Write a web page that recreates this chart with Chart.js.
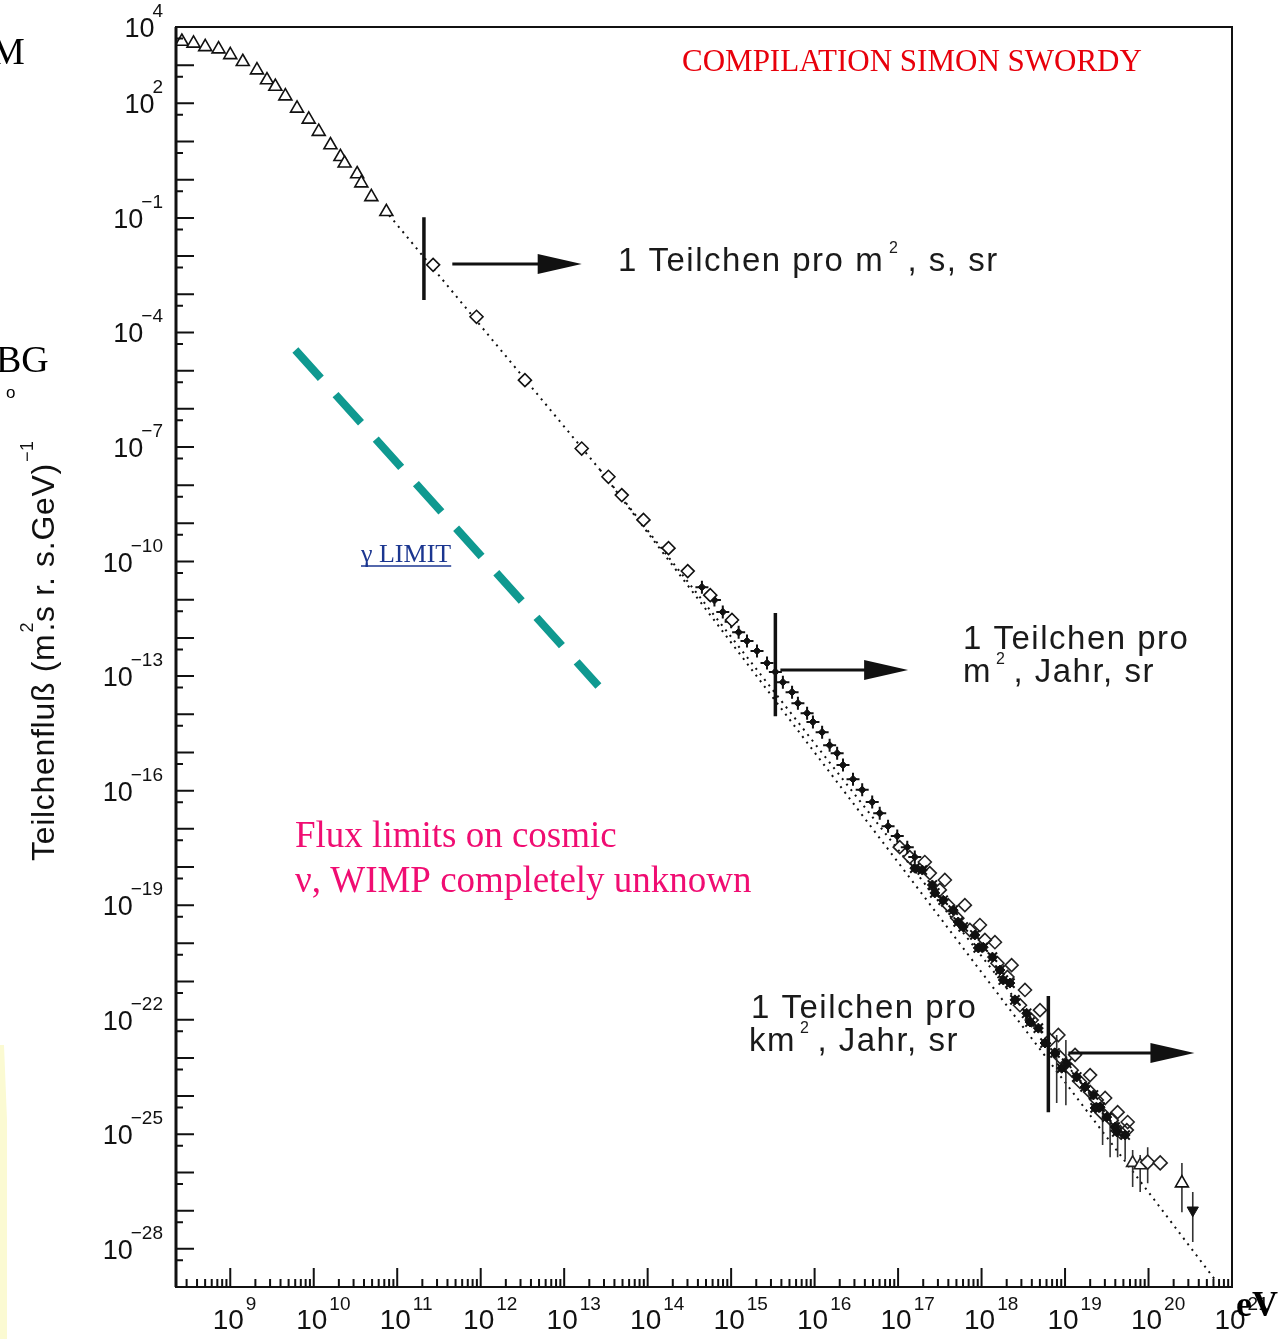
<!DOCTYPE html>
<html>
<head>
<meta charset="utf-8">
<title>Teilchenfluss</title>
<script src="https://cdn.jsdelivr.net/npm/chart.js@4.4.0/dist/chart.umd.min.js"></script>
<style>
  html, body { margin: 0; padding: 0; background: #fff; }
  canvas { display: block; }
</style>
</head>
<body>
<canvas id="fluxChart" width="1284" height="1339"></canvas>
<script>
// all values are log10(E / eV) and log10(flux)

// low energy triangles
const triLogE = [8.42, 8.56, 8.70, 8.86, 9.00, 9.15, 9.32, 9.44, 9.54, 9.66, 9.80, 9.94, 10.06, 10.20, 10.32, 10.37, 10.52, 10.57, 10.69, 10.87];
const triLogF = [3.62, 3.57, 3.48, 3.42, 3.27, 3.09, 2.87, 2.61, 2.44, 2.19, 1.87, 1.58, 1.26, 0.91, 0.60, 0.43, 0.15, -0.09, -0.45, -0.84];

// open diamonds
const diaLogE = [11.43, 11.95, 12.53, 13.21, 13.53, 13.69, 13.95, 14.25, 14.48, 14.75, 15.01];
const diaLogF = [-2.23, -3.59, -5.25, -7.04, -7.78, -8.26, -8.91, -9.65, -10.25, -10.88, -11.53];

// filled crosses around the knee
const crossLogE = [14.65, 14.80, 14.90, 15.00, 15.09, 15.19, 15.31, 15.43, 15.53, 15.62, 15.73, 15.80, 15.91, 15.98, 16.09, 16.18, 16.27, 16.34, 16.46, 16.57, 16.69, 16.78, 16.88, 16.99, 17.11, 17.20];
const crossLogF = [-10.67, -11.01, -11.32, -11.58, -11.85, -12.08, -12.34, -12.66, -12.89, -13.16, -13.42, -13.71, -13.97, -14.20, -14.47, -14.81, -15.02, -15.33, -15.70, -15.98, -16.30, -16.59, -16.93, -17.19, -17.48, -17.74];

// dense high energy cloud
const cloudFilledLogE = [17.29, 17.41, 17.54, 17.66, 17.78, 17.92, 18.02, 18.13, 18.22, 18.34, 18.40, 18.54, 18.68, 18.76, 18.88, 19.02, 19.14, 19.24, 19.34, 19.42, 19.50, 19.60, 19.72,
  17.20, 17.44, 17.72, 17.96, 18.26, 18.58, 18.96, 19.36, 19.62];
const cloudFilledLogF = [-18.08, -18.47, -18.87, -19.13, -19.57, -19.78, -20.10, -20.36, -20.70, -21.04, -21.48, -21.83, -22.22, -22.61, -22.87, -23.14, -23.50, -23.76, -23.97, -24.29, -24.55, -24.81, -25.02,
  -18.03, -18.68, -19.44, -20.12, -20.96, -22.06, -23.27, -24.31, -24.94];
const cloudOpenLogE = [17.02, 17.14, 17.38, 17.50, 17.60, 17.71, 17.86, 18.04, 18.19, 18.31, 18.46, 18.60, 18.82, 18.94, 19.08, 19.18, 19.30, 19.38, 19.44, 19.56, 19.66, 19.74,
  17.32, 17.56, 17.80, 17.98, 18.16, 18.36, 18.52, 18.70, 18.92, 19.12, 19.30, 19.48, 19.63, 19.75];
const cloudOpenLogF = [-17.48, -17.74, -18.16, -18.60, -19.00, -19.34, -19.65, -19.91, -20.52, -20.88, -21.62, -22.01, -22.53, -22.98, -23.32, -23.63, -23.89, -24.10, -24.44, -24.63, -24.94, -24.89,
  -17.87, -18.34, -19.00, -19.52, -19.97, -20.57, -21.22, -21.75, -22.40, -22.92, -23.45, -24.05, -24.42, -24.68];

// last points
const tailLogE = [19.81, 19.90, 19.99, 20.14];
const tailLogF = [-25.75, -25.81, -25.73, -25.75];
const upLogE = [20.40];
const upLogF = [-26.28];
const downLogE = [20.53];
const downLogF = [-26.99];

// error bars
const errLogE = [18.90, 19.01, 19.45, 19.54, 19.63, 19.72, 19.81, 19.90, 19.99, 20.40, 20.53];
const errLogLo = [-24.18, -24.24, -25.28, -25.60, -25.60, -25.67, -26.38, -26.51, -26.28, -27.04, -27.82];
const errLogHi = [-22.40, -22.53, -24.23, -24.50, -24.63, -24.89, -25.41, -25.54, -25.34, -25.75, -26.51];

// dotted power law lines
const fitLogE1 = [10.85, 13.43, 20.80];
const fitLogF1 = [-0.79, -7.60, -28.82];
const fitLogE2 = [13.43, 19.42];
const fitLogF2 = [-7.60, -24.29];

// gamma limit (teal dashes)
const gammaLogE = [9.78, 13.41];
const gammaLogF = [-4.46, -13.26];

// "1 Teilchen pro ..." markers and arrows
const markLogE = [11.32, 15.53, 18.80];
const markLogLo = [-3.15, -14.05, -24.42];
const markLogHi = [-0.98, -11.35, -21.38];
const arrowLogE0 = [11.66, 15.59, 19.04];
const arrowLogE1 = [13.21, 17.12, 20.55];
const arrowLogF = [-2.21, -12.84, -22.87];

// tick labels (exponents)
const xTickExp = [9, 10, 11, 12, 13, 14, 15, 16, 17, 18, 19, 20, 21];
const yTickExp = [4, 2, -1, -4, -7, -10, -13, -16, -19, -22, -25, -28];

function pts(lx, ly) {
  return lx.map((v, i) => ({ x: Math.pow(10, v), y: Math.pow(10, ly[i]) }));
}

function segs(lx, lo, hi) {
  const out = [];
  lx.forEach((v, i) => {
    const x = Math.pow(10, v);
    out.push({ x, y: Math.pow(10, lo[i]) });
    out.push({ x, y: Math.pow(10, hi[i]) });
    out.push({ x, y: null });
  });
  return out;
}

function expText(n) {
  return n < 0 ? "\u2212" + String(-n) : String(n);
}

const SANS = '"Liberation Sans", Arial, Helvetica, sans-serif';
const SERIF = '"Liberation Serif", "Times New Roman", serif';

// axes, frame, labels and notes
const decorPlugin = {
  id: "decor",
  beforeDraw(chart) {
    const ctx = chart.ctx;
    ctx.save();
    ctx.fillStyle = "#fff";
    ctx.fillRect(0, 0, chart.width, chart.height);
    // pale yellow strip at the left edge of the slide
    ctx.fillStyle = "#fbfad2";
    ctx.beginPath();
    ctx.moveTo(0, 1045);
    ctx.lineTo(4, 1045);
    ctx.lineTo(7, 1120);
    ctx.lineTo(7, 1339);
    ctx.lineTo(0, 1339);
    ctx.closePath();
    ctx.fill();
    ctx.restore();
  },
  afterDraw(chart) {
    const { ctx, chartArea: a } = chart;
    const xs = chart.scales.x;
    const ys = chart.scales.y;
    ctx.save();
    ctx.strokeStyle = "#111";
    ctx.fillStyle = "#111";

    // frame
    ctx.lineWidth = 2;
    ctx.strokeRect(a.left, a.top, a.right - a.left, a.bottom - a.top);
    ctx.lineWidth = 3;
    ctx.beginPath();
    ctx.moveTo(a.left, a.top);
    ctx.lineTo(a.left, a.bottom);
    ctx.stroke();

    // inward ticks
    ctx.lineWidth = 2;
    ctx.beginPath();
    for (let n = 8; n <= 21; n++) {
      for (let k = 1; k <= 9; k++) {
        const v = k * Math.pow(10, n);
        if (v < xs.min || v > xs.max) continue;
        const px = xs.getPixelForValue(v);
        const len = k === 1 ? 19 : 8;
        ctx.moveTo(px, a.bottom);
        ctx.lineTo(px, a.bottom - len);
      }
    }
    for (let n = -29; n <= 4; n++) {
      [[1, 18], [5, 7]].forEach(([k, len]) => {
        const v = k * Math.pow(10, n);
        if (v < ys.min || v > ys.max) return;
        const py = ys.getPixelForValue(v);
        ctx.moveTo(a.left, py);
        ctx.lineTo(a.left + len, py);
      });
    }
    ctx.stroke();

    // y tick labels
    ctx.textAlign = "left";
    ctx.textBaseline = "alphabetic";
    yTickExp.forEach((n) => {
      const py = ys.getPixelForValue(Math.pow(10, n));
      const e = expText(n);
      ctx.font = "19px " + SANS;
      const ew = ctx.measureText(e).width;
      ctx.font = "27px " + SANS;
      const bw = ctx.measureText("10").width;
      const ex = 163 - ew;
      ctx.fillText("10", ex + 2 - bw, py + 10);
      ctx.font = "19px " + SANS;
      ctx.fillText(e, ex, py - 10);
    });

    // x tick labels
    xTickExp.forEach((n) => {
      const px = xs.getPixelForValue(Math.pow(10, n));
      ctx.font = "28px " + SANS;
      const bw = ctx.measureText("10").width;
      const bx = px - 2 - bw / 2;
      ctx.fillText("10", bx, 1329);
      ctx.font = "19px " + SANS;
      ctx.fillText(expText(n), bx + bw + 2, 1310);
    });

    // arrows
    ctx.lineWidth = 3;
    arrowLogF.forEach((f, i) => {
      const x0 = xs.getPixelForValue(Math.pow(10, arrowLogE0[i]));
      const x1 = xs.getPixelForValue(Math.pow(10, arrowLogE1[i]));
      const py = ys.getPixelForValue(Math.pow(10, f));
      ctx.beginPath();
      ctx.moveTo(x0, py);
      ctx.lineTo(x1 - 40, py);
      ctx.stroke();
      ctx.beginPath();
      ctx.moveTo(x1 - 44, py - 10);
      ctx.lineTo(x1, py);
      ctx.lineTo(x1 - 44, py + 10);
      ctx.closePath();
      ctx.fill();
    });

    // y axis title
    ctx.save();
    ctx.translate(54, 861);
    ctx.rotate(-Math.PI / 2);
    ctx.letterSpacing = "0.7px";
    ctx.font = "32px " + SANS;
    let tx = 0;
    ctx.fillText("Teilchenflu\u00df (m", tx, 0);
    tx += ctx.measureText("Teilchenflu\u00df (m").width;
    ctx.font = "18px " + SANS;
    ctx.fillText("2", tx + 1, -21);
    ctx.font = "32px " + SANS;
    ctx.fillText(".s r. s.GeV)", tx + 2, 0);
    tx += 2 + ctx.measureText(".s r. s.GeV)").width;
    ctx.font = "18px " + SANS;
    ctx.fillText("\u22121", tx + 1, -21);
    ctx.letterSpacing = "0px";
    ctx.restore();

    // "1 Teilchen pro" notes
    function note(x, y, parts) {
      let cx = x;
      parts.forEach(([txt, sup, gap]) => {
        ctx.font = sup ? "16px " + SANS : "33px " + SANS;
        ctx.fillText(txt, cx, sup ? y - 18 : y);
        cx += ctx.measureText(txt).width + (gap || 0);
      });
    }
    ctx.letterSpacing = "1.5px";
    ctx.fillStyle = "#1a1a1a";
    note(618, 271, [["1 Teilchen pro m", false, 5], ["2", true, 8], [", s, sr", false]]);
    note(963, 649, [["1 Teilchen pro", false]]);
    note(963, 682, [["m", false, 4], ["2", true, 7], [", Jahr, sr", false]]);
    note(751, 1018, [["1 Teilchen pro", false]]);
    note(749, 1051, [["km", false, 4], ["2", true, 7], [", Jahr, sr", false]]);
    ctx.letterSpacing = "0px";

    // slide texts
    ctx.fillStyle = "#e8000b";
    ctx.font = "31px " + SERIF;
    ctx.fillText("COMPILATION SIMON SWORDY", 682, 71);

    ctx.fillStyle = "#1b3690";
    ctx.font = "26px " + SERIF;
    ctx.fillText("\u03b3 LIMIT", 361, 562);
    const gw = ctx.measureText("\u03b3 LIMIT").width;
    ctx.strokeStyle = "#1b3690";
    ctx.lineWidth = 1.5;
    ctx.beginPath();
    ctx.moveTo(361, 566);
    ctx.lineTo(361 + gw, 566);
    ctx.stroke();

    ctx.fillStyle = "#f00d72";
    ctx.font = "37px " + SERIF;
    ctx.fillText("Flux limits on cosmic", 295, 847);
    ctx.fillText("\u03bd, WIMP completely unknown", 295, 892);

    ctx.fillStyle = "#000";
    ctx.font = "38px " + SERIF;
    ctx.fillText("M", -9, 64);
    ctx.fillText("BG", -4, 372);
    ctx.font = "17px " + SANS;
    ctx.fillText("o", 6, 398);
    ctx.font = "bold 36px " + SERIF;
    ctx.fillText("eV", 1236, 1316);

    ctx.restore();
  }
};

const ctx = document.getElementById("fluxChart").getContext("2d");

const chart = new Chart(ctx, {
  type: "scatter",
  data: {
    datasets: [
      {
        label: "Marker",
        data: segs(markLogE, markLogLo, markLogHi),
        showLine: true,
        pointRadius: 0,
        borderColor: "#111",
        borderWidth: 3.5
      },
      {
        label: "Triangles",
        data: pts(triLogE, triLogF),
        pointStyle: "triangle",
        pointRadius: 7.5,
        borderColor: "#111",
        backgroundColor: "#fff",
        pointBorderWidth: 1.6
      },
      {
        label: "Diamonds",
        data: pts(diaLogE, diaLogF),
        pointStyle: "rectRot",
        pointRadius: 6.5,
        borderColor: "#111",
        backgroundColor: "#fff",
        pointBorderWidth: 1.6
      },
      {
        label: "Crosses",
        data: pts(crossLogE, crossLogF),
        pointStyle: "cross",
        pointRadius: 6.5,
        borderColor: "#111",
        pointBorderWidth: 2
      },
      {
        label: "Crosses core",
        data: pts(crossLogE, crossLogF),
        pointStyle: "rectRot",
        pointRadius: 3.8,
        borderColor: "#111",
        backgroundColor: "#111",
        pointBorderWidth: 1
      },
      {
        label: "Cloud filled",
        data: pts(cloudFilledLogE, cloudFilledLogF),
        pointStyle: "crossRot",
        pointRadius: 6.5,
        borderColor: "#111",
        pointBorderWidth: 2
      },
      {
        label: "Cloud filled core",
        data: pts(cloudFilledLogE, cloudFilledLogF),
        pointStyle: "rectRot",
        pointRadius: 5,
        borderColor: "#111",
        backgroundColor: "#111",
        pointBorderWidth: 1
      },
      {
        label: "Cloud open",
        data: pts(cloudOpenLogE, cloudOpenLogF),
        pointStyle: "rectRot",
        pointRadius: 6.5,
        borderColor: "#222",
        backgroundColor: "rgba(255,255,255,0)",
        pointBorderWidth: 1.6
      },
      {
        label: "Tail",
        data: pts(tailLogE, tailLogF),
        pointStyle: ["triangle", "triangle", "rectRot", "rectRot"],
        pointRadius: 7,
        borderColor: "#222",
        backgroundColor: "#fff",
        pointBorderWidth: 1.6
      },
      {
        label: "Up",
        data: pts(upLogE, upLogF),
        pointStyle: "triangle",
        pointRadius: 7.5,
        borderColor: "#111",
        backgroundColor: "#fff",
        pointBorderWidth: 1.6
      },
      {
        label: "Down",
        data: pts(downLogE, downLogF),
        pointStyle: "triangle",
        rotation: 180,
        pointRadius: 6.5,
        borderColor: "#111",
        backgroundColor: "#111",
        pointBorderWidth: 1
      },
      {
        label: "Errors",
        data: segs(errLogE, errLogLo, errLogHi),
        showLine: true,
        pointRadius: 0,
        borderColor: "#333",
        borderWidth: 1.6
      },
      {
        label: "Fit 1",
        data: pts(fitLogE1, fitLogF1),
        showLine: true,
        pointRadius: 0,
        borderColor: "#111",
        borderWidth: 2,
        borderDash: [2, 5]
      },
      {
        label: "Fit 2",
        data: pts(fitLogE2, fitLogF2),
        showLine: true,
        pointRadius: 0,
        borderColor: "#111",
        borderWidth: 2,
        borderDash: [2, 5]
      },
      {
        label: "gamma limit",
        data: pts(gammaLogE, gammaLogF),
        showLine: true,
        pointRadius: 0,
        borderColor: "#0f9990",
        borderWidth: 8,
        borderDash: [38, 22]
      }
    ]
  },
  options: {
    responsive: false,
    animation: false,
    devicePixelRatio: 1,
    events: [],
    layout: { padding: { top: 27, right: 52, left: 0, bottom: 0 } },
    plugins: {
      legend: { display: false },
      tooltip: { enabled: false }
    },
    scales: {
      x: {
        type: "logarithmic",
        min: Math.pow(10, 8.35),
        max: 1e21,
        ticks: { display: false },
        grid: { display: false, drawTicks: false },
        border: { display: false },
        afterFit(scale) { scale.height = 52; }
      },
      y: {
        type: "logarithmic",
        min: 1e-29,
        max: 1e4,
        ticks: { display: false },
        grid: { display: false, drawTicks: false },
        border: { display: false },
        afterFit(scale) { scale.width = 176; }
      }
    }
  },
  plugins: [decorPlugin]
});
</script>
</body>
</html>
